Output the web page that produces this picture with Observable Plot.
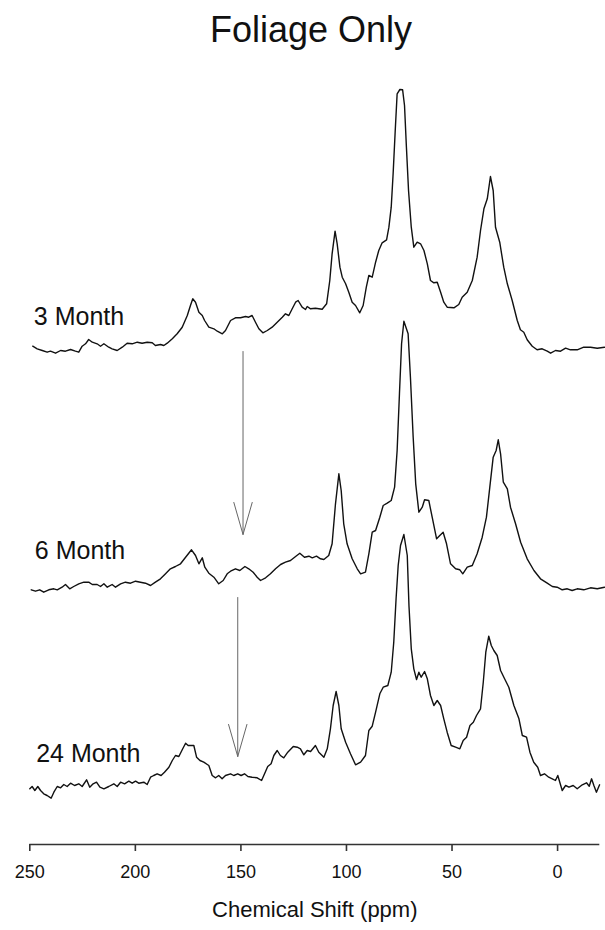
<!DOCTYPE html>
<html>
<head>
<meta charset="utf-8">
<script src="https://cdn.jsdelivr.net/npm/d3@7"></script>
<script src="https://cdn.jsdelivr.net/npm/@observablehq/plot@0.6"></script>
<style>
  html, body { margin: 0; padding: 0; background: #fff; }
  #title { width: 605px; height: 60px; box-sizing: border-box; padding-top: 12px; padding-left: 17px;
           text-align: center; font: 36px/36px Arial, "Liberation Sans", sans-serif; color: #111; }
</style>
</head>
<body>
<div id="title">Foliage Only</div>
<div id="chart"></div>
<script>
// Spectra: [chemical shift (ppm), intensity above the trace's own baseline]
const month3 = [
[248.6,2.3],[246.5,-0.3],[244.1,-2],[241.8,-3.7],[240.2,-2.7],[237.8,-4.7],[235.4,-2],[233.1,-2.7],[230.7,-1],[228.4,-2.7],
[226.8,-3.7],[225.2,2.3],[223.6,4.7],[222.1,9],[220.4,6.3],[218.1,4.7],[216.5,2.3],[214.9,4.7],[212.6,1.3],[211.0,-0.3],
[208.6,-2],[206.2,1.3],[203.9,5.3],[201.5,4.7],[199.1,6.3],[196.8,5.3],[194.4,6.3],[192.0,5.7],[190.5,3],[188.1,4],
[186.5,3],[184.9,5.3],[182.5,9.7],[180.2,14.7],[177.8,21.3],[175.4,33],[173.9,43],[172.8,49.7],[171.5,46.3],[169.9,36.3],
[168.3,33],[167.2,28],[165.2,21.3],[162.8,19.7],[161.2,17.3],[158.8,14.7],[157.3,18],[154.9,28],[152.6,30.7],[150.2,30.7],
[147.8,32],[146.3,31.3],[144.7,33],[143.1,26.3],[141.5,19.7],[139.6,15.7],[137.5,18],[135.2,21.3],[132.8,26.3],[130.4,31.3],
[128.9,34.7],[127.3,33],[125.7,39.7],[124.1,46.3],[122.9,48],[121.0,41.3],[119.4,39],[118.6,42],[117.0,39.7],[114.7,40.3],
[111.5,39.3],[109.4,44.7],[107.9,68],[106.8,94.7],[105.4,117.3],[104.4,104.7],[103.1,81.3],[102.0,71.3],[100.4,64.7],[98.9,56.3],
[97.3,46.3],[95.7,43],[93.7,35.7],[92.1,43],[90.6,61.3],[89.4,73],[87.8,71.3],[86.2,86.3],[84.7,98],[83.1,105.7],
[81.0,108.7],[79.9,121.3],[78.8,141.3],[77.9,174.7],[76.9,218],[76.0,254.7],[74.7,259],[73.4,258.7],[72.5,243],[71.6,201.3],
[70.6,158],[69.3,121.3],[68.1,101.3],[66.5,106.3],[64.9,104.7],[63.3,98],[61.7,84.7],[60.2,68],[58.6,65.7],[57.0,66.3],
[55.4,56.3],[53.9,46.3],[52.3,41.3],[49.1,40.7],[46.8,44],[45.2,51.3],[42.8,56.3],[40.4,68],[38.1,91.3],[36.5,118],
[34.9,139.7],[33.3,149.7],[31.8,172],[30.5,158],[29.4,121.3],[27.4,106.3],[25.5,81.3],[23.8,64.7],[21.5,48],[19.1,28],
[17.6,18.7],[16.0,16.3],[14.4,8.7],[12.0,2.3],[9.7,-1.3],[7.3,-0.3],[4.9,-2.7],[3.3,-4.7],[1.0,-2],[-1.4,-2.7],
[-3.8,0.3],[-6.1,-1.3],[-9.3,-1.3],[-12.4,1.3],[-15.6,1.3],[-18.8,0.3],[-22.2,1.3]
];
const month6 = [
[249.3,-1.3],[247.3,-2.7],[245.3,-1.3],[243.4,-3.7],[241.0,-1.3],[238.6,-0.3],[237.0,-1.3],[234.7,1.3],[233.1,4],[231.1,-0.3],
[229.2,2],[226.8,4.7],[224.4,6.3],[222.1,6.3],[220.4,4],[218.1,4],[216.5,2],[214.9,4.7],[213.3,1.3],[211.0,4],
[209.4,1.3],[207.0,4.7],[204.7,6.3],[202.3,5.3],[199.9,7.3],[197.6,6.3],[195.2,5.3],[192.8,3],[190.5,6.3],[188.1,9.7],
[185.7,14.7],[183.4,19.7],[181.0,22],[178.6,24.7],[176.2,31.3],[173.4,38.7],[171.5,33],[169.9,24.7],[168.3,30.7],[167.1,21.3],
[165.2,15.3],[162.8,11.3],[160.5,4.7],[158.4,8],[156.5,14.7],[154.9,17.3],[152.6,19.7],[150.5,18],[148.1,22],[146.3,19.7],
[144.2,16.3],[142.3,11.3],[140.7,8],[138.3,10.7],[136.0,14.7],[133.6,19.7],[131.2,24],[128.9,26.3],[126.5,28],[124.1,32],
[122.1,35.3],[119.9,31.3],[117.8,32.3],[116.2,30.7],[114.2,32.3],[112.3,29.7],[110.7,29],[108.4,33],[106.8,44.7],[105.2,84.7],
[103.6,114.7],[102.5,98],[101.3,64.7],[99.7,44.7],[97.3,29.7],[94.9,19.7],[93.3,14.7],[91.0,16.3],[89.4,34.7],[87.8,56.3],
[86.2,58],[84.2,71.3],[82.6,83],[80.7,85.3],[78.8,88],[77.2,101.3],[76.0,138],[74.9,194.7],[73.9,244.7],[72.8,267.3],
[71.6,259.7],[70.8,254.7],[69.7,211.3],[68.4,151.3],[67.2,104.7],[65.7,76.3],[64.1,81.3],[63.0,88.7],[61.0,88],[59.4,71.3],
[57.3,49.7],[55.8,53],[54.2,56.3],[52.6,44.7],[50.7,24.7],[48.3,19.7],[46.3,18.7],[44.9,14.7],[42.8,21.3],[40.4,23],
[38.1,34.7],[35.7,51.3],[33.7,71.3],[32.1,101.3],[30.5,131.3],[29.1,138],[28.1,148.7],[27.0,134.7],[25.7,106.3],[23.8,99.7],
[22.3,81.3],[19.9,64.7],[17.5,46.3],[14.4,29.7],[11.2,18],[8.1,9.7],[4.9,5.3],[2.5,2],[0.2,1.3],[-2.2,-1.3],
[-4.6,-0.3],[-6.9,-2],[-9.3,-0.3],[-12.4,-1.3],[-15.6,0.7],[-18.8,-0.3],[-22.2,1.3]
];
const month24 = [
[250.0,-2.3],[248.9,0],[247.6,-4],[246.2,0],[244.9,-4],[243.4,-7.3],[241.8,-9],[239.9,-11.7],[238.6,-5.7],[237.0,0],
[235.4,-1.3],[233.9,2],[232.3,0],[230.7,3.3],[228.8,1],[226.8,2.7],[225.2,0],[223.1,6.7],[221.6,-0.7],[220.0,2.7],
[218.4,4.3],[216.8,-0.7],[214.9,-2.3],[212.6,0],[210.2,2.7],[208.6,0],[207.0,4.3],[205.1,2.7],[203.1,5.3],[201.5,3.3],
[199.9,5.3],[198.4,3.3],[196.0,4.3],[194.4,2],[192.8,9.3],[191.3,11],[189.7,12.7],[187.8,11],[186.2,14.3],[184.1,19.3],
[182.5,26],[181.0,31],[179.4,30],[177.8,36.7],[176.2,43.3],[175.0,41],[173.5,41],[172.3,41],[171.0,29.3],[169.4,26],
[167.6,24.3],[165.2,21],[163.6,11],[162.0,8.7],[160.5,11],[158.9,7.7],[157.3,11],[154.9,12.7],[153.4,11],[151.5,12.7],
[149.9,11],[148.3,12.7],[146.7,10],[144.7,9.3],[142.3,8.7],[140.2,6],[138.8,12.7],[137.3,20],[135.7,22.7],[134.4,31],
[132.8,36],[131.3,31],[129.7,28.7],[127.8,34.3],[125.2,40],[123.3,39.3],[121.8,37.7],[120.2,31.7],[118.6,36],[117.0,35],
[114.7,41],[113.1,34.3],[110.7,29.3],[109.1,37.7],[107.6,57.7],[106.3,81],[104.9,95],[103.6,81],[102.5,57.7],[100.4,44.3],
[98.1,32.7],[95.7,21.7],[93.3,24.3],[91.0,31],[89.4,56],[87.8,60.3],[86.2,74.3],[84.2,92.7],[82.6,99.3],[80.4,101],
[78.8,114.3],[77.6,144.3],[76.5,187.7],[75.5,221],[74.4,241],[72.8,252],[71.2,231],[70.4,181],[69.3,137.7],[68.1,117.7],
[66.8,107],[65.7,114.3],[64.6,109.3],[63.0,115],[61.7,107.7],[60.2,91],[58.6,81],[57.0,86],[55.4,81],[53.9,67.7],
[52.3,54.3],[50.4,41],[48.3,39.3],[46.3,37.7],[44.7,46],[43.1,49.3],[41.5,61],[39.9,64.3],[38.4,71],[36.5,77.7],
[35.2,104.3],[34.0,134.3],[32.6,150.3],[31.4,141],[30.2,136],[28.6,131],[27.0,116],[25.1,107.7],[23.1,99.3],[20.7,81],
[18.3,67.7],[16.7,51],[14.7,49.3],[13.1,34.3],[11.3,24.3],[9.4,19.3],[8.1,11],[6.2,12.7],[4.2,9.3],[2.5,7.7],
[1.0,6],[-0.1,11],[-2.2,-4],[-3.8,1],[-5.4,-0.7],[-7.4,1],[-9.3,-2.3],[-11.7,1.7],[-13.7,3.7],[-15.0,0.3],
[-16.1,7.7],[-17.2,1],[-18.4,-5.7],[-19.9,1.7]
];

const seriesNames = ["3 Month", "6 Month", "24 Month"];
const seriesValues = [month3, month6, month24];
const seriesOffsets = [496, 256, 58];          // vertical stacking offset (intensity units)
const labelShift = [248.1, 247.6, 247.0];      // ppm where each label starts
const labelLevel = [528, 294, 91];             // label height (intensity units)
const xTicks = [250, 200, 150, 100, 50, 0];
// Arrows: [ppm, start level, end level]
const arrows = [[149, 493, 310], [151.5, 247, 88]];

const points = seriesValues.flatMap((vals, i) =>
  vals.map(([ppm, v]) => ({series: seriesNames[i], ppm, y: v + seriesOffsets[i]})));
const labels = seriesNames.map((name, i) => ({name, ppm: labelShift[i], y: labelLevel[i]}));
const arrowData = arrows.map(([ppm, y1, y2]) => ({ppm, y1, y2}));

const font = 'Arial, "Liberation Sans", sans-serif';

const chart = Plot.plot({
  width: 605,
  height: 870,
  marginLeft: 29.3,
  marginRight: 5.7,
  marginTop: 0,
  marginBottom: 86,
  style: {fontFamily: font, background: "#fff", color: "#111", overflow: "visible"},
  x: {domain: [250, -20]},
  y: {domain: [0, 784], axis: null},
  marks: [
    Plot.ruleY([0], {stroke: "#333", strokeWidth: 1.6}),
    Plot.axisX({ticks: xTicks, tickSize: 7, tickPadding: 14, fontSize: 18, stroke: "#333",
                strokeWidth: 1.6, fill: "#111", label: null}),
    Plot.text(["Chemical Shift (ppm)"], {text: d => d, frameAnchor: "bottom", lineAnchor: "middle",
                dy: 65, fontSize: 22, fill: "#111"}),
    Plot.arrow(arrowData, {x1: "ppm", x2: "ppm", y1: "y1", y2: "y2", stroke: "#666",
                strokeWidth: 1, headAngle: 32, headLength: 50}),
    Plot.line(points, {x: "ppm", y: "y", z: "series", stroke: "#111", strokeWidth: 1.4}),
    Plot.text(labels, {x: "ppm", y: "y", text: "name", textAnchor: "start", lineAnchor: "middle",
                fontSize: 25, fill: "#111"})
  ]
});
document.getElementById("chart").appendChild(chart);
</script>
</body>
</html>
